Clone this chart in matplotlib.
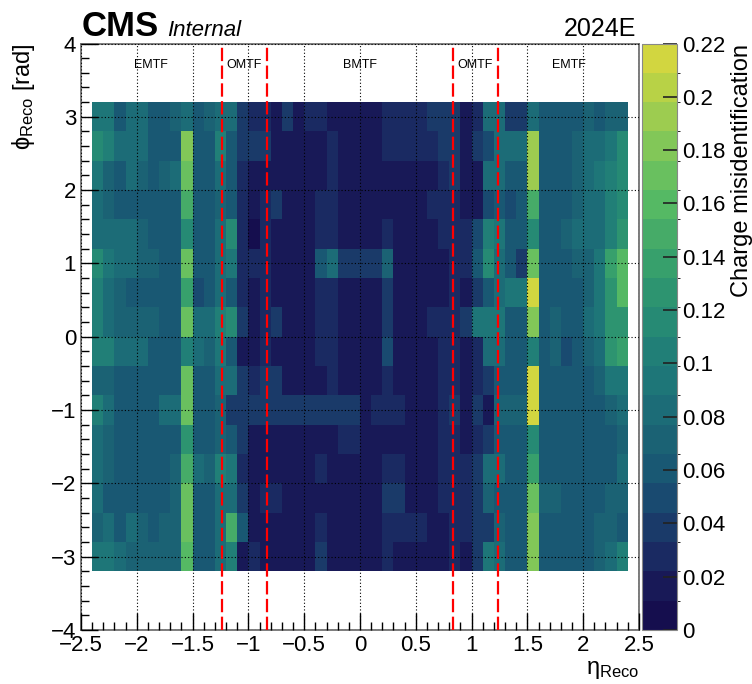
import matplotlib
matplotlib.use('Agg')
import matplotlib.pyplot as plt
import numpy as np

from matplotlib import rc
from matplotlib.colors import ListedColormap, BoundaryNorm
from matplotlib.ticker import MultipleLocator, FuncFormatter

rc('mathtext', default='regular')
plt.rcParams['font.family'] = ['Liberation Sans', 'DejaVu Sans']

# binning: eta in 0.1 steps, phi in 0.4 steps (listed top to bottom)
eta_edges = np.round(np.arange(-2.4, 2.45, 0.1), 2)
phi_edges = np.round(np.arange(3.2, -3.25, -0.4), 2)

# charge misid per (phi, eta) bin, one list per phi row, eta from -2.4 to 2.4
phi_p28 = [0.09,0.09,0.065,0.08,0.08,0.06,0.06,0.07,0.085,0.06,0.07,0.085,0.085,
           0.035,0.03,0.03,0.02,0.035,0.02,0.03,0.03,
           0.02,0.015,0.015,0.015,0.015,0.03,0.03,0.03,0.03,0.035,0.035,0.035,0.015,0.03,
           0.085,0.08,0.04,0.04,0.085,0.06,0.06,0.06,0.06,0.075,0.06,0.07,0.07]
phi_p24 = [0.11,0.1,0.085,0.085,0.085,0.065,0.065,0.065,0.18,0.06,0.06,0.1,0.06,
           0.04,0.035,0.035,0.02,0.02,0.02,0.02,0.02,
           0.03,0.015,0.015,0.015,0.015,0.03,0.03,0.03,0.03,0.03,0.04,0.035,0.015,0.035,
           0.045,0.085,0.085,0.085,0.195,0.06,0.06,0.06,0.07,0.08,0.085,0.095,0.11]
phi_p20 = [0.09,0.075,0.06,0.08,0.07,0.06,0.07,0.08,0.175,0.055,0.055,0.08,0.06,
           0.03,0.02,0.02,0.015,0.015,0.015,0.015,0.015,
           0.03,0.015,0.015,0.015,0.015,0.02,0.02,0.02,0.02,0.02,0.03,0.035,0.015,0.02,
           0.08,0.08,0.06,0.06,0.19,0.06,0.055,0.06,0.075,0.08,0.09,0.1,0.11]
phi_p16 = [0.085,0.07,0.06,0.06,0.06,0.06,0.055,0.06,0.15,0.055,0.055,0.07,0.06,
           0.03,0.015,0.03,0.035,0.02,0.02,0.02,0.03,
           0.03,0.015,0.015,0.015,0.015,0.02,0.02,0.02,0.02,0.03,0.03,0.03,0.015,0.015,
           0.045,0.06,0.045,0.06,0.15,0.06,0.06,0.06,0.07,0.08,0.08,0.1,0.12]
phi_p12 = [0.085,0.085,0.085,0.08,0.075,0.06,0.06,0.06,0.12,0.06,0.06,0.08,0.11,
           0.025,0.01,0.03,0.015,0.015,0.015,0.015,0.025,
           0.03,0.015,0.015,0.015,0.015,0.03,0.02,0.02,0.02,0.02,0.03,0.03,0.03,0.05,
           0.1,0.09,0.06,0.06,0.12,0.065,0.065,0.075,0.08,0.08,0.085,0.1,0.13]
phi_p08 = [0.11,0.09,0.08,0.08,0.07,0.07,0.06,0.06,0.175,0.06,0.06,0.085,0.09,
           0.03,0.025,0.03,0.015,0.015,0.015,0.015,0.06,
           0.08,0.04,0.04,0.035,0.035,0.07,0.02,0.02,0.02,0.02,0.02,0.03,0.03,0.06,
           0.12,0.08,0.055,0.04,0.17,0.06,0.06,0.06,0.075,0.075,0.09,0.14,0.16]
phi_p04 = [0.1,0.08,0.07,0.055,0.055,0.055,0.055,0.06,0.14,0.045,0.06,0.08,0.06,
           0.03,0.015,0.03,0.015,0.015,0.015,0.015,0.025,
           0.03,0.015,0.015,0.015,0.015,0.035,0.02,0.02,0.02,0.02,0.02,0.03,0.015,0.04,
           0.06,0.085,0.09,0.09,0.21,0.06,0.06,0.06,0.06,0.075,0.095,0.13,0.16]
phi_p00 = [0.1,0.08,0.075,0.075,0.075,0.075,0.06,0.06,0.17,0.085,0.085,0.1,0.12,
           0.04,0.015,0.03,0.035,0.015,0.015,0.015,0.03,
           0.03,0.015,0.015,0.015,0.015,0.035,0.02,0.02,0.02,0.03,0.03,0.03,0.035,0.09,
           0.09,0.09,0.06,0.06,0.18,0.06,0.07,0.06,0.06,0.08,0.09,0.13,0.13]
phi_m04 = [0.1,0.1,0.085,0.085,0.08,0.06,0.06,0.06,0.1,0.08,0.07,0.09,0.06,
           0.015,0.02,0.03,0.015,0.015,0.015,0.015,0.03,
           0.03,0.015,0.015,0.015,0.015,0.05,0.015,0.015,0.015,0.015,0.03,0.03,0.015,0.03,
           0.085,0.08,0.06,0.06,0.1,0.06,0.07,0.045,0.06,0.075,0.085,0.13,0.14]
phi_m08 = [0.07,0.07,0.06,0.06,0.06,0.06,0.06,0.06,0.17,0.06,0.055,0.08,0.08,
           0.035,0.03,0.035,0.035,0.015,0.015,0.015,0.015,
           0.03,0.015,0.015,0.015,0.015,0.03,0.015,0.015,0.015,0.015,0.03,0.03,0.015,0.03,
           0.04,0.06,0.06,0.06,0.21,0.06,0.06,0.06,0.06,0.06,0.075,0.09,0.09]
phi_m12 = [0.1,0.08,0.06,0.06,0.06,0.06,0.08,0.08,0.17,0.065,0.065,0.07,0.04,
           0.035,0.035,0.035,0.035,0.035,0.035,0.035,0.04,
           0.035,0.035,0.035,0.015,0.03,0.03,0.03,0.015,0.015,0.015,0.03,0.035,0.015,0.035,
           0.015,0.07,0.07,0.07,0.21,0.06,0.06,0.06,0.06,0.06,0.065,0.07,0.08]
phi_m16 = [0.08,0.07,0.06,0.06,0.06,0.06,0.06,0.06,0.13,0.06,0.06,0.075,0.06,
           0.035,0.015,0.015,0.015,0.015,0.015,0.015,0.015,
           0.015,0.03,0.03,0.015,0.015,0.015,0.015,0.015,0.015,0.015,0.03,0.03,0.015,0.03,
           0.04,0.06,0.06,0.06,0.12,0.06,0.06,0.06,0.06,0.06,0.055,0.06,0.07]
phi_m20 = [0.085,0.07,0.06,0.06,0.06,0.06,0.06,0.075,0.15,0.08,0.07,0.1,0.09,
           0.03,0.015,0.015,0.015,0.015,0.015,0.015,0.03,
           0.015,0.015,0.015,0.015,0.015,0.03,0.03,0.015,0.015,0.015,0.03,0.03,0.03,0.035,
           0.085,0.08,0.06,0.06,0.14,0.06,0.06,0.06,0.06,0.06,0.06,0.065,0.08]
phi_m24 = [0.085,0.06,0.06,0.06,0.06,0.06,0.06,0.07,0.17,0.06,0.06,0.08,0.085,
           0.035,0.015,0.03,0.03,0.015,0.015,0.015,0.015,
           0.015,0.015,0.015,0.015,0.015,0.035,0.035,0.015,0.015,0.015,0.03,0.03,0.03,0.035,
           0.07,0.06,0.06,0.06,0.165,0.07,0.07,0.06,0.06,0.06,0.06,0.07,0.075]
phi_m28 = [0.07,0.085,0.06,0.08,0.075,0.06,0.07,0.07,0.17,0.06,0.06,0.085,0.15,
           0.06,0.015,0.015,0.015,0.015,0.015,0.015,0.03,
           0.015,0.015,0.015,0.015,0.015,0.03,0.03,0.03,0.03,0.015,0.015,0.03,0.03,0.035,
           0.04,0.075,0.06,0.06,0.18,0.06,0.06,0.06,0.06,0.06,0.07,0.07,0.06]
phi_m32 = [0.09,0.09,0.085,0.07,0.07,0.07,0.07,0.07,0.16,0.06,0.06,0.085,0.1,
           0.015,0.025,0.015,0.015,0.015,0.015,0.015,0.035,
           0.015,0.015,0.015,0.015,0.015,0.03,0.02,0.015,0.015,0.015,0.015,0.03,0.015,0.035,
           0.09,0.085,0.06,0.06,0.18,0.06,0.06,0.06,0.06,0.065,0.07,0.08,0.1]

misid = np.array([phi_p28, phi_p24, phi_p20, phi_p16, phi_p12, phi_p08, phi_p04, phi_p00,
                  phi_m04, phi_m08, phi_m12, phi_m16, phi_m20, phi_m24, phi_m28, phi_m32])

tf_bounds = [-1.24, -0.83, 0.83, 1.24]
tf_names = ['EMTF', 'OMTF', 'BMTF', 'OMTF', 'EMTF']
tf_centers = [-1.87, -1.035, 0.0, 1.035, 1.87]

# 20 contour colours (ROOT viridis as rendered), bottom to top
band_colors = ['#150e4e', '#181957', '#1a2a62', '#1a3a69', '#194a70',
               '#195873', '#1b6274', '#1c6c77', '#1e7678', '#217f77',
               '#268a74', '#2d9470', '#37a06c', '#46ab68', '#55b964',
               '#69c05f', '#82c758', '#9dcc50', '#b8d246', '#d2d640']
levels = np.linspace(0, 0.22, 21)
cmap = ListedColormap(band_colors)
norm = BoundaryNorm(levels, cmap.N)

fig = plt.figure(figsize=(7.52, 6.84), dpi=100)
ax = fig.add_axes([0.1077, 0.0789, 0.742, 0.8575])
cax = fig.add_axes([0.8537, 0.0789, 0.0465, 0.8575])

mesh = ax.pcolormesh(eta_edges, phi_edges, misid, cmap=cmap, norm=norm)

ax.set_xlim(-2.5, 2.5)
ax.set_ylim(-4, 4)
ax.xaxis.set_major_locator(MultipleLocator(0.5))
ax.xaxis.set_minor_locator(MultipleLocator(0.1))
ax.yaxis.set_major_locator(MultipleLocator(1))
ax.yaxis.set_minor_locator(MultipleLocator(0.2))
ax.xaxis.set_major_formatter(FuncFormatter(lambda v, p: ('%g' % v).replace('-', '\u2212')))
ax.yaxis.set_major_formatter(FuncFormatter(lambda v, p: ('%g' % v).replace('-', '\u2212')))
ax.tick_params(which='both', direction='in', top=False, right=False,
               labelsize=16, color='black')
ax.tick_params(which='major', length=12, width=1)
ax.tick_params(which='minor', length=6, width=1)
ax.set_axisbelow(False)
ax.grid(True, which='major', color='black', linestyle=(0, (1, 2)), linewidth=0.8)
for s in ax.spines.values():
    s.set_color('#666666')
    s.set_linewidth(1.2)

for b in tf_bounds:
    ax.axvline(b, color='red', linewidth=1.6, dashes=(6, 2), zorder=4)
for name, c in zip(tf_names, tf_centers):
    ax.text(c, 3.7, name, ha='center', va='center', fontsize=9)

ax.set_xlabel(r'$\eta_{Reco}$', fontsize=17, loc='right', labelpad=2)
ax.set_ylabel(r'$\phi_{Reco}$ [rad]', fontsize=17, loc='top', labelpad=10)

cb = fig.colorbar(mesh, cax=cax, ticks=np.arange(0, 0.2201, 0.02))
cb.ax.yaxis.set_major_formatter(FuncFormatter(lambda v, p: '%g' % round(v, 2)))
cb.ax.tick_params(direction='in', length=10, width=1.2, labelsize=16, color='#222222')
cb.outline.set_edgecolor('#888888')
cb.set_label('Charge misidentification', fontsize=17, loc='top', labelpad=4)

fig.text(0.108, 0.948, 'CMS', fontsize=25, fontweight='bold', ha='left', va='baseline')
fig.text(0.222, 0.948, 'Internal', fontsize=16, style='italic', ha='left', va='baseline')
fig.text(0.846, 0.948, '2024E', fontsize=18, ha='right', va='baseline')

fig.savefig('out.png', dpi=100)
